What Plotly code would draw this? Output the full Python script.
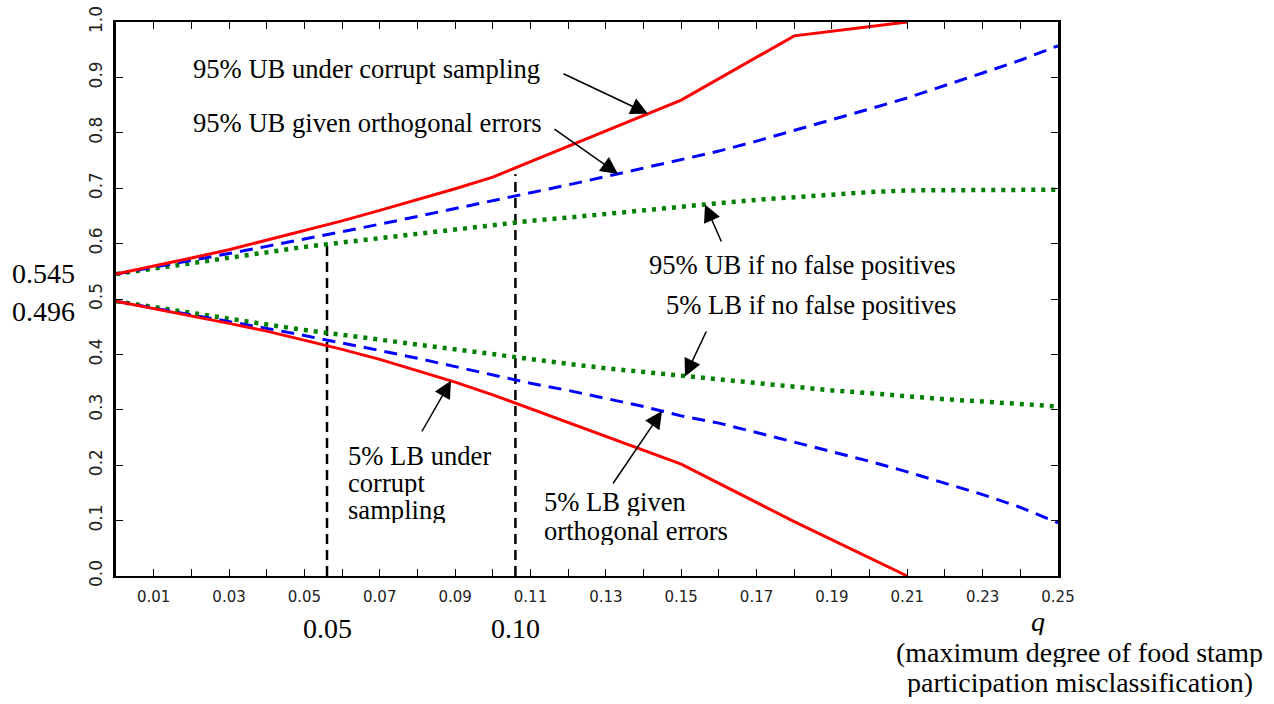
import numpy as np
import plotly.graph_objects as go

# ---------------- data ----------------
q = [0.00, 0.01, 0.02, 0.03, 0.04, 0.05, 0.06, 0.07, 0.08, 0.09, 0.10, 0.11, 0.12,
     0.13, 0.14, 0.15, 0.16, 0.17, 0.18, 0.19, 0.20, 0.21, 0.22, 0.23, 0.24, 0.25]

q_corrupt = [0.00, 0.01, 0.02, 0.03, 0.04, 0.05, 0.06, 0.07, 0.08, 0.09, 0.10, 0.15, 0.18, 0.21]
ub_corrupt = [0.545, 0.559, 0.574, 0.589, 0.606, 0.623, 0.641, 0.660, 0.679, 0.699, 0.720, 0.859, 0.975, 1.000]
lb_corrupt = [0.496, 0.483, 0.470, 0.456, 0.442, 0.426, 0.409, 0.391, 0.371, 0.350, 0.327, 0.202, 0.098, 0.000]

ub_orth = [0.545, 0.557, 0.569, 0.582, 0.595, 0.608, 0.621, 0.635, 0.649, 0.663, 0.677, 0.692, 0.706,
           0.721, 0.736, 0.751, 0.767, 0.785, 0.804, 0.823, 0.843, 0.863, 0.885, 0.908, 0.931, 0.957]
lb_orth = [0.496, 0.484, 0.472, 0.460, 0.447, 0.434, 0.421, 0.407, 0.393, 0.378, 0.363, 0.348, 0.335,
           0.320, 0.306, 0.289, 0.276, 0.259, 0.242, 0.224, 0.207, 0.188, 0.168, 0.147, 0.124, 0.096]

ub_nofp = [0.545, 0.555, 0.565, 0.575, 0.584, 0.594, 0.602, 0.610, 0.618, 0.626, 0.633, 0.641, 0.647,
           0.654, 0.660, 0.667, 0.673, 0.679, 0.684, 0.689, 0.693, 0.696, 0.697, 0.697, 0.697, 0.697]
lb_nofp = [0.496, 0.485, 0.475, 0.464, 0.454, 0.444, 0.435, 0.426, 0.417, 0.408, 0.399, 0.391, 0.383,
           0.375, 0.368, 0.361, 0.354, 0.348, 0.341, 0.335, 0.330, 0.324, 0.319, 0.315, 0.310, 0.306]

vline_q = [0.056, 0.106]
vline_top = [0.600, 0.725]
vline_labels = ["0.05", "0.10"]

x_tick_vals = q
x_tick_text = ["", "0.01", "", "0.03", "", "0.05", "", "0.07", "", "0.09", "", "0.11", "",
               "0.13", "", "0.15", "", "0.17", "", "0.19", "", "0.21", "", "0.23", "", "0.25"]
y_tick_vals = [0.0, 0.1, 0.2, 0.3, 0.4, 0.5, 0.6, 0.7, 0.8, 0.9, 1.0]
y_tick_text = ["0.0", "0.1", "0.2", "0.3", "0.4", "0.5", "0.6", "0.7", "0.8", "0.9", "1.0"]

start_labels = ["0.545", "0.496"]

# ---------------- figure ----------------
W, H = 1274, 704
L, R, T, B = 116, 216, 22, 128
PW, PH = W - L - R, H - T - B
XMAX = 0.25


def paper(xp, yp):
    """pixel position -> paper coordinates (for annotation placement)"""
    return (xp - L) / PW, (T + PH - yp) / PH


def dat(xp, yp):
    """pixel position -> data coordinates (for arrow placement)"""
    return (xp - L) / PW * XMAX, (T + PH - yp) / PH


fig = go.Figure()

RED, BLUE, GREEN = "#ff0000", "#0000ff", "#008000"

for xv, top in zip(vline_q, vline_top):
    fig.add_trace(go.Scatter(x=[xv, xv], y=[0, top], mode="lines",
                             line=dict(color="black", width=2.5, dash="10px,6px"),
                             hoverinfo="skip", showlegend=False))

fig.add_trace(go.Scatter(x=q, y=ub_nofp, mode="lines",
                         line=dict(color=GREEN, width=4.5, dash="4px,6px"), showlegend=False))
fig.add_trace(go.Scatter(x=q, y=lb_nofp, mode="lines",
                         line=dict(color=GREEN, width=4.5, dash="4px,6px"), showlegend=False))
fig.add_trace(go.Scatter(x=q, y=ub_orth, mode="lines",
                         line=dict(color=BLUE, width=3, dash="13px,8px"), showlegend=False))
fig.add_trace(go.Scatter(x=q, y=lb_orth, mode="lines",
                         line=dict(color=BLUE, width=3, dash="13px,8px"), showlegend=False))
fig.add_trace(go.Scatter(x=q_corrupt, y=ub_corrupt, mode="lines",
                         line=dict(color=RED, width=3), showlegend=False))
fig.add_trace(go.Scatter(x=q_corrupt, y=lb_corrupt, mode="lines",
                         line=dict(color=RED, width=3), showlegend=False))

SERIF = "Liberation Serif"
ann = []


def text(xp, yp, s, size=26.6, xanchor="left", italic=False, height=None):
    x, y = paper(xp, yp)
    a = dict(x=x, y=y, xref="paper", yref="paper", text=s, showarrow=False,
             xanchor=xanchor, yanchor="middle", borderpad=0,
             font=dict(family=SERIF, size=size, color="black",
                       style="italic" if italic else "normal"))
    if height is not None:
        a["height"] = height
    ann.append(a)


def arrow(tip_xp, series_q, series, tail_xp, tail_yp):
    tip_q = dat(tip_xp, 0)[0]
    ty = float(np.interp(tip_q, series_q, series))
    ax, ay = dat(tail_xp, tail_yp)
    ann.append(dict(x=tip_q, y=ty, xref="x", yref="y", ax=ax, ay=ay, axref="x", ayref="y",
                    text="", showarrow=True, arrowhead=2, arrowsize=2.3, arrowwidth=1.5,
                    arrowcolor="black", standoff=0))


text(192, 69, "95% UB under corrupt sampling")
text(192, 123, "95% UB given orthogonal errors")
text(957, 265, "95% UB if no false positives", xanchor="right")
text(957, 305, "5% LB if no false positives", xanchor="right")
text(347, 456, "5% LB under", height=26)
text(347, 483, "corrupt", height=26)
text(347, 510, "sampling", height=26)
text(543, 502, "5% LB given", height=28)
text(543, 531, "orthogonal errors", height=28)

arrow(648, q_corrupt, ub_corrupt, 562, 73)
arrow(618, q, ub_orth, 553, 128)
arrow(705, q, ub_nofp, 722, 243)
arrow(685, q, lb_nofp, 707, 330)
arrow(451, q_corrupt, lb_corrupt, 421, 433)
arrow(662, q, lb_orth, 612, 485)

# labels of the two vertical reference lines
for xv, lab in zip(vline_q, vline_labels):
    ann.append(dict(x=xv / XMAX, y=paper(0, 628)[1], xref="paper", yref="paper", text=lab,
                    showarrow=False, xanchor="center", yanchor="middle",
                    font=dict(family=SERIF, size=28, color="black")))

# starting values
text(43, 273, start_labels[0], size=28, xanchor="center", height=32)
text(43, 311, start_labels[1], size=28, xanchor="center", height=32)

# axis title
text(1038, 621, "q", size=28, xanchor="center", italic=True, height=28)
text(1079, 652, "(maximum degree of food stamp", size=28, xanchor="center", height=30)
text(1080, 682, "participation misclassification)", size=28, xanchor="center", height=30)

TICKFONT = dict(family="DejaVu Sans", size=15, color="#222222")

fig.update_layout(
    width=W, height=H,
    margin=dict(l=L, r=R, t=T, b=B, pad=0, autoexpand=False),
    paper_bgcolor="white", plot_bgcolor="white",
    showlegend=False,
    annotations=ann,
    xaxis=dict(range=[0, XMAX], showgrid=False, zeroline=False, automargin=False,
               showline=True, linecolor="black", linewidth=2, mirror="ticks",
               ticks="inside", ticklen=7, tickwidth=1, tickcolor="black",
               tickmode="array", tickvals=x_tick_vals, ticktext=x_tick_text,
               tickfont=TICKFONT, ticklabelstandoff=6),
    yaxis=dict(range=[0, 1], showgrid=False, zeroline=False, automargin=False,
               showline=True, linecolor="black", linewidth=3, mirror="ticks",
               ticks="inside", ticklen=7, tickwidth=1, tickcolor="black",
               tickmode="array", tickvals=y_tick_vals, ticktext=y_tick_text,
               tickangle=-90, tickfont=dict(family="DejaVu Sans", size=17, color="#222222"),
               ticklabelstandoff=4),
)

fig.write_html("out.html", config={"displayModeBar": False},
               post_script="document.body.style.margin='0px';document.body.style.overflow='hidden';")
